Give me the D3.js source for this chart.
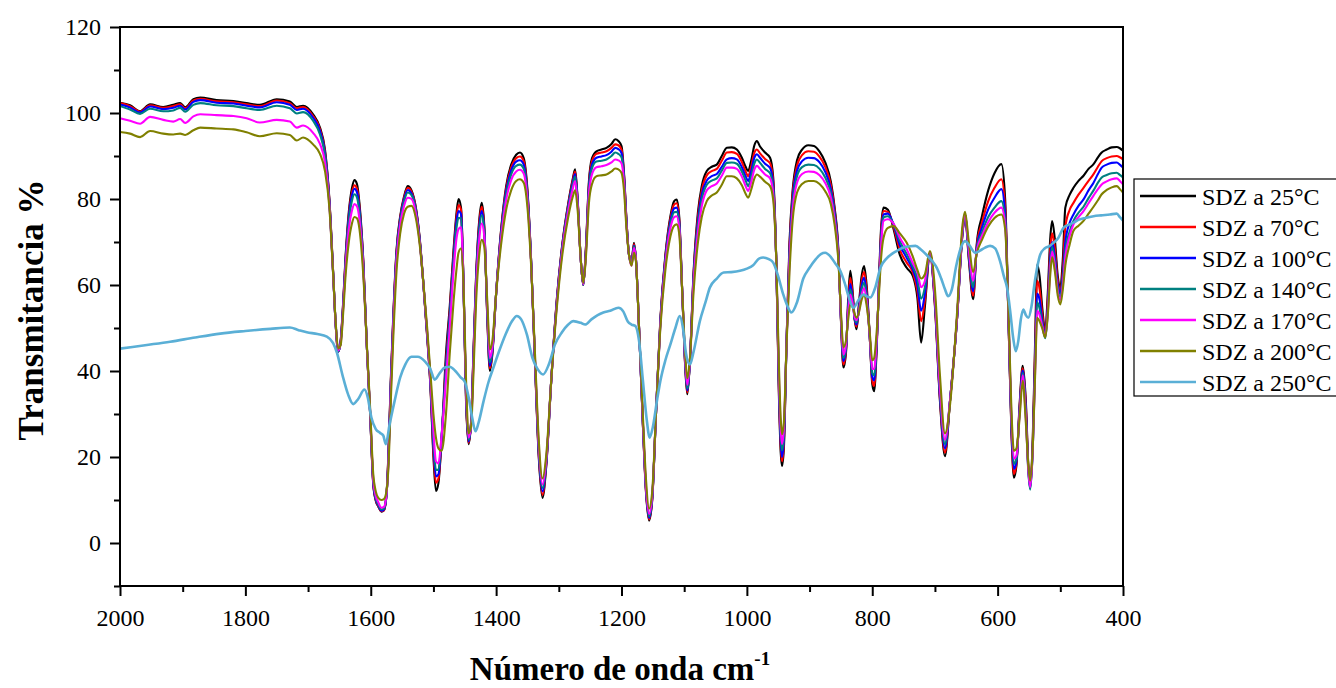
<!DOCTYPE html>
<html>
<head>
<meta charset="utf-8">
<script src="https://cdn.jsdelivr.net/npm/d3@7"></script>
<style>
  body { margin: 0; background: #fff; }
  svg { display: block; }
</style>
</head>
<body>
<script>
// Numero de onda (cm-1) para las series 25-200 °C
const waveNumber = [
  2000, 1984, 1968, 1952, 1931, 1915, 1904, 1896, 1883, 1872, 1846, 1819, 1798, 1777, 1750, 1729, 1718, 1708, 1692, 1681, 1673,
  1666, 1660, 1656, 1652, 1648, 1644, 1640, 1635, 1630, 1626, 1622, 1618, 1612, 1606, 1601, 1596, 1592, 1588, 1583, 1579,
  1575, 1572, 1568, 1564, 1559, 1553, 1547, 1541, 1535, 1528, 1522, 1516, 1510, 1505, 1500, 1496, 1492, 1487, 1480, 1474,
  1468, 1463, 1460, 1456, 1452, 1448, 1444, 1440, 1436, 1432, 1427, 1423, 1419, 1414, 1410, 1406, 1400, 1392, 1384, 1376,
  1368, 1362, 1356, 1350, 1344, 1338, 1332, 1326, 1320, 1312, 1303, 1294, 1285, 1278, 1274, 1270, 1265, 1261, 1257, 1252,
  1247, 1240, 1232, 1224, 1216, 1210, 1205, 1200, 1196, 1192, 1188, 1184, 1180, 1177, 1172, 1166, 1161, 1156, 1151, 1145,
  1138, 1130, 1122, 1116, 1112, 1108, 1103, 1098, 1095, 1091, 1085, 1078, 1072, 1064, 1056, 1048, 1040, 1032, 1024, 1016,
  1008, 1002, 998, 993, 988, 984, 979, 971, 963, 958, 953, 949, 946, 944, 941, 937, 932, 927, 920, 912,
  902, 893, 884, 875, 866, 860, 854, 850, 846, 842, 838, 835, 831, 828, 825, 821, 817, 813, 809, 804,
  800, 797, 793, 789, 786, 782, 775, 766, 756, 745, 735, 728, 722, 716, 708, 700, 692, 684, 676, 665,
  656, 652, 646, 639, 633, 625, 615, 605, 594, 588, 582, 578, 574, 570, 565, 560, 555, 551, 548, 544,
  540, 537, 533, 529, 524, 520, 516, 513, 509, 504, 500, 496, 492, 485, 479, 471, 463, 455, 447, 440,
  434, 426, 418, 410, 405, 400
];

const sdz25 = [
  102.4, 101.8, 100.4, 102.0, 101.4, 101.9, 102.3, 101.3, 103.2, 103.6, 103.0, 102.8, 102.3, 101.9, 103.2, 102.7, 101.4, 101.7, 99.7, 96.6, 91.5,
  80, 63, 51, 44.5, 47, 56, 67, 77, 82.5, 84.4, 83.5, 79, 66, 45, 30, 13.6, 9.8, 8.5, 7.3, 7.6,
  11, 20, 38, 53, 67.9, 76, 80.5, 83, 82, 78, 71, 60.2, 48, 36.9, 20, 12.1, 14, 24, 44, 55,
  68, 77, 80, 78, 60, 33, 23, 28, 45, 62, 75, 79.1, 74, 52, 40, 44, 58, 73, 83, 88,
  90.3, 90.8, 89.5, 82, 65, 42, 20, 10.5, 18, 38, 57, 70, 79, 84.5, 86.9, 80, 66, 60, 68, 84,
  89.5, 91.1, 91.5, 91.9, 92.8, 93.9, 93.5, 92.3, 86, 75, 67, 65.6, 69.8, 66, 50, 28, 12, 5.2, 10, 30,
  52, 67, 76, 79.5, 79.9, 76, 58, 40, 34.6, 42, 63, 77, 83, 86.5, 87.5, 88, 90, 91.9, 92, 91.5,
  89.6, 87.5, 86.5, 89, 92.5, 93.5, 92.2, 90.8, 89.6, 85, 65, 35, 21, 17.9, 22, 45, 70, 82, 89, 91.5,
  92.5, 92.3, 91, 88.5, 84, 78, 68, 52, 40.8, 44, 58, 63.3, 58, 52, 49.7, 56, 62, 64.4, 60, 48,
  37, 35.3, 45, 62, 73, 78, 77.5, 73, 67, 64, 62, 57, 46.6, 55, 67.2, 55, 33, 20.2, 33, 51.6,
  72, 76.4, 66, 56.7, 70, 76, 82, 86, 88.1, 80, 48, 26, 15.2, 18, 32, 41.2, 33, 18, 13.5, 24,
  48, 64.8, 62, 55, 49.3, 58, 71, 74.9, 71, 62, 59.4, 66, 78, 81, 82.6, 84.2, 85.4, 87, 88.1, 89.7,
  90.8, 91.5, 92, 92.1, 91.8, 91.2
];

const sdz70 = [
  102.3, 101.6, 100.3, 101.8, 101.2, 101.6, 102.0, 101.1, 102.9, 103.3, 102.7, 102.5, 102.0, 101.6, 102.9, 102.3, 101.1, 101.4, 99.3, 96.2, 91.0,
  79.7, 63, 51, 44.5, 47, 55.6, 66.5, 76.3, 81.5, 83.2, 82.4, 78.2, 65.6, 45, 30, 13.8, 10, 8.6, 7.4, 7.6,
  11, 19.5, 37.5, 52.5, 67.5, 75.7, 80.2, 82.6, 81.7, 77.8, 70.8, 60.2, 48.2, 37.2, 21, 14, 15, 24, 42, 54,
  67, 76, 78.6, 77.5, 60, 33.5, 23.3, 28, 44.5, 61.5, 74.2, 78.2, 73.5, 52.5, 40.6, 44.3, 58, 72.7, 82.4, 87.3,
  89.5, 89.9, 88.8, 81.5, 65, 42, 20.5, 11.2, 18.3, 38, 56.8, 69.8, 78.7, 84.1, 86.4, 79.8, 66, 60, 67.8, 83.4,
  88.8, 90.5, 90.8, 91.1, 91.9, 92.7, 92.5, 91.5, 85.6, 74.8, 67, 65.3, 69.5, 66, 50, 28, 12.2, 5.5, 10.2, 30,
  51.8, 66.6, 75.4, 78.7, 79, 75.4, 58, 40.3, 35, 42, 62.5, 76, 82, 85.5, 86.5, 87, 88.9, 90.8, 90.9, 90.5,
  88.6, 86.4, 85.3, 87.6, 90.8, 91.5, 90.6, 89.3, 88.3, 84, 65, 36, 22.3, 19, 23, 45, 69, 81, 87.8, 90.2,
  91.1, 91, 89.8, 87.5, 83.2, 77.4, 67.6, 52.2, 41.5, 44.5, 57, 61.7, 57.3, 52, 50.3, 55.4, 60.8, 63, 59, 48,
  37.8, 36.5, 45.5, 61.5, 72, 77.2, 77, 73.5, 68.2, 65.2, 62.8, 58.5, 51.6, 56.5, 67.3, 55.5, 33.5, 21, 33, 51.6,
  72, 76.4, 66.5, 57.5, 69.5, 74.5, 79.5, 82.6, 84.6, 78, 48, 26.5, 16, 18.5, 31.5, 40.6, 32, 17.5, 13, 23,
  46, 61, 59, 53.5, 48.6, 56.5, 68.5, 72, 68.8, 61, 58.6, 63.5, 73.5, 77.5, 79.1, 81, 82.6, 84.2, 85.8, 87.5,
  88.8, 89.5, 89.9, 90, 89.7, 89.2
];

const sdz100 = [
  102.0, 101.3, 100.1, 101.5, 100.9, 101.2, 101.7, 100.8, 102.6, 103.0, 102.4, 102.2, 101.7, 101.3, 102.5, 101.9, 100.7, 101.0, 98.9, 95.8, 90.6,
  79.4, 62.8, 51, 44.5, 46.8, 55.3, 66, 75.7, 80.8, 82.4, 81.6, 77.6, 65.3, 45, 30.2, 14, 10.2, 8.8, 7.5, 7.8,
  11, 19, 37, 52, 67, 75.3, 79.8, 82.1, 81.3, 77.5, 70.6, 60.2, 48.5, 37.6, 22.5, 15.5, 16, 24.5, 41, 53,
  66, 75, 77.2, 76.5, 60, 34, 23.6, 27.8, 44, 61, 73.3, 77.2, 73, 53, 41.2, 44.6, 58, 72.3, 81.8, 86.6,
  88.7, 89, 88, 81, 65, 42.3, 21, 12, 18.6, 38, 56.5, 69.5, 78.3, 83.6, 85.8, 79.5, 66, 60, 67.5, 82.8,
  88, 89.6, 89.9, 90.2, 91, 91.9, 91.6, 90.7, 85.2, 74.6, 67, 65, 69.2, 66, 50, 28.2, 12.5, 5.8, 10.4, 30,
  51.5, 66.2, 74.8, 77.8, 78, 74.8, 58, 40.6, 35.5, 42, 62, 75, 81, 84.3, 85.3, 85.8, 87.5, 89.2, 89.5, 89.2,
  87.4, 85.3, 84.2, 86.5, 89.6, 90.4, 89.6, 88.2, 87.2, 83.2, 65, 37, 23.5, 20, 24, 45, 68, 80, 86.6, 88.8,
  89.6, 89.5, 88.5, 86.3, 82.3, 76.8, 67.2, 52.4, 42.3, 45, 56, 60.2, 56.5, 52, 50.8, 54.9, 59.7, 61.7, 58, 48,
  38.6, 37.8, 46, 61, 71, 76.4, 76.6, 74, 69.3, 66.3, 63.5, 60, 54, 58, 67.4, 56, 34, 22, 33, 51.6,
  72.2, 76.4, 67, 58.5, 69, 73.3, 77.6, 80.3, 82.3, 76.5, 48.5, 27, 17.2, 19, 31, 40.1, 31, 17, 12.7, 22,
  44, 58, 56.5, 52, 48.1, 55, 66.5, 70, 67, 60, 58, 62, 70, 74.5, 76.4, 78.4, 79.9, 82, 83.8, 85.8,
  87.3, 88, 88.4, 88.5, 88, 87.3
];

const sdz140 = [
  101.6, 100.8, 99.8, 101.0, 100.4, 100.6, 101.2, 100.3, 101.9, 102.3, 101.8, 101.6, 101.1, 100.7, 101.7, 101.1, 99.9, 100.2, 98.2, 95.0, 90.0,
  79, 62.6, 51, 44.6, 46.6, 55, 65.5, 74.8, 79.6, 81.1, 80.4, 76.7, 64.8, 45, 30.4, 14.3, 10.5, 9, 7.8, 8,
  11, 18.5, 36.5, 51.5, 66.5, 74.8, 79.3, 81.5, 80.9, 77.2, 70.4, 60.2, 48.8, 38, 24, 17, 17, 25, 40, 52,
  65, 73.5, 75.6, 75.5, 60, 34.5, 24, 27.6, 43.5, 60.3, 72.3, 76.2, 72.5, 53.5, 42, 45, 58, 71.8, 81, 85.7,
  87.7, 88, 87, 80.5, 65, 42.6, 21.5, 12.8, 19, 38, 56.2, 69.2, 77.9, 83.1, 85.2, 79.2, 66, 60, 67.2, 82,
  87.2, 88.7, 88.9, 89.2, 90, 90.8, 90.5, 89.7, 84.7, 74.3, 67, 64.8, 69, 66, 50, 28.4, 12.8, 6.2, 10.6, 30,
  51.2, 65.7, 74.1, 76.9, 77, 74.2, 58, 41, 36, 42, 61.5, 74, 79.8, 83.3, 84.3, 84.8, 86.6, 88.4, 88.5, 88.2,
  86.4, 84.3, 83, 85.3, 88.3, 89.2, 88.4, 87, 86, 82.2, 65, 38, 25, 21.5, 25, 45, 67, 78.8, 85.3, 87.4,
  88, 87.9, 87, 85, 81.3, 76, 66.8, 52.7, 43, 45.5, 55.2, 59, 56, 52.2, 51.3, 54.5, 58.7, 60.5, 57.2, 48,
  39.5, 39, 46.5, 60.5, 70, 75.7, 76, 74.2, 70.2, 67.2, 64.2, 61.5, 56.8, 59.5, 67.5, 56.5, 35, 23, 33, 51.8,
  72.4, 76.5, 67.5, 59.5, 68.6, 72.2, 75.8, 78, 79.5, 75, 49, 28, 18.4, 19.6, 30.5, 39.5, 30, 16.5, 12.4, 21.5,
  42.5, 56, 54.5, 51, 47.6, 54, 65, 68.8, 65.8, 59, 57.2, 61, 68, 72.5, 74.9, 76.8, 78.2, 80.2, 82, 83.8,
  85, 85.6, 86, 86.1, 85.6, 85
];

const sdz170 = [
  98.8, 98.2, 97.5, 99.1, 98.4, 98.0, 98.6, 97.7, 99.2, 99.7, 99.5, 99.3, 98.8, 97.8, 98.4, 98.0, 96.6, 97.1, 95.4, 92.8, 88.5,
  78.6, 62.4, 51, 44.8, 46.4, 54.5, 64.5, 73, 77.3, 78.8, 78.3, 75.2, 64, 45, 30.8, 14.8, 11, 9.5, 8.2, 8.4,
  11.2, 18, 35.5, 50.5, 65.5, 74, 78.3, 80.3, 80, 76.6, 70, 60.2, 49.2, 38.5, 26, 19, 18.5, 25, 38, 50,
  63, 71, 73, 73.5, 60, 35.5, 24.5, 27.3, 42.5, 59, 70.5, 74.3, 71.5, 54.5, 43, 45.6, 58, 71, 79.8, 84.4,
  86.4, 86.8, 85.9, 79.5, 64.5, 43, 22.5, 13.6, 19.5, 38, 55.8, 68.6, 77.2, 82.2, 84.2, 78.7, 66, 60.2, 66.8, 81,
  85.8, 87.4, 87.6, 87.9, 88.5, 89.2, 89, 88.3, 83.8, 73.8, 67, 64.5, 68.6, 66, 50, 28.8, 13.3, 6.8, 11, 30,
  50.8, 65, 73.2, 75.8, 76, 73.4, 58, 41.6, 36.8, 42, 60.5, 72.5, 78.3, 82, 83, 83.6, 85.4, 87.3, 87.3, 87,
  85.2, 83, 81.9, 84, 86.9, 87.7, 87, 85.7, 84.8, 81.2, 65, 39.5, 26.5, 23, 26.5, 45, 65.5, 77.4, 83.8, 85.8,
  86.4, 86.3, 85.5, 83.7, 80.3, 75.2, 66.3, 53, 43.8, 46, 54.2, 57.8, 55.4, 52.5, 51.8, 54, 57.6, 59.3, 56.3, 48.2,
  40.5, 40.5, 47.3, 60, 68.8, 74.9, 75.3, 74.3, 71, 68.3, 65, 63, 59.5, 61, 67.6, 57, 36, 24, 33, 52,
  72.8, 76.6, 68.2, 61, 68.2, 71.4, 74.6, 76.8, 78, 74, 49.5, 29, 19.6, 20.3, 30, 39, 29, 17, 13, 21.5,
  41, 54, 53, 50.5, 48, 53.5, 64, 67.8, 64.8, 58.3, 56.5, 60, 66.5, 71.5, 74.1, 75.8, 77.2, 79, 80.8, 82.3,
  83.4, 84.1, 84.6, 84.8, 84.2, 83.4
];

const sdz200 = [
  95.6, 95.2, 94.4, 95.8, 95.2, 95.0, 95.2, 94.9, 96.0, 96.6, 96.4, 96.2, 95.5, 94.6, 95.3, 94.9, 93.6, 94.3, 92.7, 90.5, 86.5,
  78, 62.5, 51.5, 45.2, 46, 53.5, 62.5, 70, 74.3, 75.8, 75.5, 73, 62.5, 45.5, 31.5, 16, 12, 10.5, 10, 10.2,
  12, 17, 33, 48, 63, 72, 76.5, 78.2, 78.4, 75.5, 69.5, 60.5, 50, 40, 30, 24.5, 22, 21.4, 30, 44,
  56, 64, 67.5, 68.5, 60, 38, 25.5, 27, 40, 56, 67, 70.5, 69, 56, 45, 47, 58, 69.5, 77.5, 82,
  84.2, 84.6, 83.8, 78, 64, 44, 24, 15, 20.5, 38, 55, 67.5, 75.8, 80.4, 82, 77.5, 66, 60.5, 66, 79,
  83.5, 85.3, 85.5, 85.7, 86.4, 87.1, 86.9, 86.1, 82, 73, 67, 64.5, 67.5, 65.5, 50, 30, 15, 8, 12, 30,
  50, 63.5, 71.3, 73.8, 74.1, 72, 58, 43, 38.3, 42.5, 58.5, 70, 75.8, 79.5, 80.8, 81.5, 83.3, 85.3, 85.3, 84.8,
  83.2, 81.2, 80.3, 82.2, 84.8, 85.7, 85.2, 84, 83, 79.8, 65.5, 42, 29, 25.3, 28, 45, 63, 75, 81.5, 83.5,
  84.2, 84.2, 83.5, 81.8, 78.8, 74, 65.5, 54, 45.5, 47, 52.5, 55.5, 54.8, 53.2, 52.4, 53.8, 56.5, 57.8, 55.3, 49,
  42.5, 43, 49, 58.5, 66, 71, 73.3, 73.7, 72, 69.8, 66.5, 63.5, 61.5, 62.5, 67.9, 59, 39, 25.5, 32, 53,
  74, 77, 70, 63, 67.5, 70.5, 73.6, 75.6, 76.4, 73, 50.5, 31, 21.4, 22, 29, 37.7, 28, 18, 14.5, 22,
  40, 52.4, 51.5, 50, 47.8, 53, 62.5, 66.5, 63.5, 57.5, 55.5, 59, 64.5, 69.5, 72.6, 73.8, 74.9, 76.6, 78.2, 79.7,
  81.1, 82.1, 82.7, 83, 82.3, 81.5
];

// La serie de 250 °C tiene su propia rejilla
const sdz250Wave = [
  2000, 1960, 1920, 1880, 1840, 1800, 1760, 1729, 1715, 1702, 1685, 1670, 1660, 1654, 1645, 1636, 1628, 1620, 1610, 1605,
  1599, 1592, 1585, 1580, 1576, 1570, 1562, 1553, 1545, 1535, 1525, 1514, 1505, 1498, 1490, 1482, 1474, 1465, 1457, 1450,
  1444, 1438, 1433, 1428, 1420, 1412, 1405, 1396, 1385, 1375, 1367, 1360, 1351, 1342, 1334, 1325, 1316, 1306, 1295, 1285,
  1277, 1265, 1258, 1248, 1238, 1229, 1218, 1205, 1197, 1190, 1184, 1178, 1172, 1166, 1160, 1155, 1150, 1143, 1138, 1130,
  1122, 1114, 1107, 1102, 1097, 1091, 1085, 1075, 1066, 1059, 1048, 1037, 1025, 1011, 1000, 990, 980, 974, 965, 958,
  950, 942, 935, 929, 920, 910, 900, 890, 882, 875, 866, 858, 851, 843, 836, 830, 822, 814, 808, 803,
  795, 787, 777, 768, 761, 750, 740, 731, 722, 712, 704, 697, 690, 684, 679, 673, 666, 659, 652, 645,
  636, 628, 620, 612, 604, 596, 590, 585, 580, 575, 571, 567, 563, 559, 555, 551, 546, 541, 537, 532,
  525, 518, 511, 503, 495, 487, 479, 470, 460, 447, 435, 421, 410, 405, 400
];

const sdz250 = [
  45.2, 46, 46.8, 47.8, 48.7, 49.3, 49.8, 50.1, 49.5, 49, 48.6, 48, 46.5, 44.3, 39, 34.5, 32.3, 33.5, 35.7, 34,
  29.2, 26.5, 25.6, 25, 23, 27.5, 33, 38.5, 41.5, 43.3, 43.3, 42.3, 40.5, 38, 39.5, 40.8, 41, 40, 38.6, 37.5,
  34, 29, 26, 28, 33, 37.5, 40.5, 44.3, 48.5, 51.5, 52.8, 52, 48.5, 43, 40.5, 39.2, 41.5, 46.2, 49, 50.8,
  51.6, 51.2, 50.8, 52, 53, 53.6, 54, 54.7, 53.8, 51.5, 50.8, 50.5, 47, 38, 29, 24.5, 27, 33.5, 37.7, 42.5,
  46.2, 50, 52.8, 50, 44, 41.5, 44.5, 51.6, 56, 59.4, 61.5, 62.9, 63, 63.3, 63.8, 64.6, 66.2, 66.4, 66, 65.2,
  62, 57.8, 55, 53.6, 56, 61.5, 64, 66, 67.2, 67.5, 66.5, 64.8, 63.3, 60, 56.5, 54.7, 56.5, 57.8, 57.3, 57.1,
  59.5, 64, 66.2, 67.3, 67.9, 68.7, 69, 69.1, 68.2, 66.8, 65.5, 64, 61.5, 59, 57.4, 59, 64.5, 68.5, 70.2, 69.2,
  67.5, 68, 68.7, 69.1, 68.5, 65.5, 62, 59.4, 54, 47.5, 44.6, 47, 52, 54.3, 53, 52.4, 55, 60.5, 64, 67.1,
  68.5, 69, 69.8, 71, 73.3, 74, 74.5, 75.2, 75.6, 76, 76.2, 76.4, 76.6, 75.8, 75
];

const seriesNames = ["SDZ a 25°C", "SDZ a 70°C", "SDZ a 100°C", "SDZ a 140°C", "SDZ a 170°C", "SDZ a 200°C", "SDZ a 250°C"];
const seriesColors = ["#000000", "#ff0000", "#0000ff", "#008080", "#ff00ff", "#808000", "#5aafd6"];
const xTicks = [2000, 1800, 1600, 1400, 1200, 1000, 800, 600, 400];
const xMinorTicks = [1900, 1700, 1500, 1300, 1100, 900, 700, 500];
const yTicks = [0, 20, 40, 60, 80, 100, 120];
const yMinorTicks = [-10, 10, 30, 50, 70, 90, 110];

// series: [wavenumbers, valores]
const series = [
  [waveNumber, sdz25],
  [waveNumber, sdz70],
  [waveNumber, sdz100],
  [waveNumber, sdz140],
  [waveNumber, sdz170],
  [waveNumber, sdz200],
  [sdz250Wave, sdz250]
];

const width = 1336, height = 688;
const plotLeft = 120, plotRight = 1123, plotTop = 27, plotBottom = 586;
const serif = "'Liberation Serif', 'Times New Roman', serif";

const svg = d3.select("body").append("svg")
    .attr("width", width)
    .attr("height", height)
    .style("background", "#fff");

const x = d3.scaleLinear().domain([2000, 400]).range([plotLeft, plotRight]);
const y = d3.scaleLinear().domain([-10, 120]).range([plotBottom, plotTop]);

const line = d3.line()
    .x(d => x(d[0]))
    .y(d => y(d[1]))
    .curve(d3.curveMonotoneX);

// Curvas
series.forEach(function (s, i) {
    const pts = s[0].map((w, k) => [w, s[1][k]]).filter(d => d[1] !== undefined);
    svg.append("path")
        .datum(pts)
        .attr("d", line)
        .attr("fill", "none")
        .attr("stroke", seriesColors[i])
        .attr("stroke-width", i === 6 ? 2.6 : 2.1)
        .attr("stroke-linejoin", "round");
});

// Ejes
const xAxis = svg.append("g")
    .attr("transform", `translate(0,${plotBottom})`)
    .call(d3.axisBottom(x).tickValues(xTicks).tickSize(10).tickPadding(13).tickFormat(d3.format("d")));
const xMinor = svg.append("g")
    .attr("transform", `translate(0,${plotBottom})`)
    .call(d3.axisBottom(x).tickValues(xMinorTicks).tickSize(6).tickFormat(""));
const yAxis = svg.append("g")
    .attr("transform", `translate(${plotLeft},0)`)
    .call(d3.axisLeft(y).tickValues(yTicks).tickSize(10).tickPadding(9).tickFormat(d3.format("d")));
const yMinor = svg.append("g")
    .attr("transform", `translate(${plotLeft},0)`)
    .call(d3.axisLeft(y).tickValues(yMinorTicks).tickSize(6).tickFormat(""));

[xAxis, xMinor, yAxis, yMinor].forEach(function (g) {
    g.attr("font-family", null);
    g.select(".domain").remove();
    g.selectAll(".tick line").attr("stroke", "#000").attr("stroke-width", 2);
    g.selectAll(".tick text")
        .attr("fill", "#000")
        .style("font-family", serif)
        .style("font-size", "24px");
});

// Marco
svg.append("rect")
    .attr("x", plotLeft)
    .attr("y", plotTop)
    .attr("width", plotRight - plotLeft)
    .attr("height", plotBottom - plotTop)
    .attr("fill", "none")
    .attr("stroke", "#000")
    .attr("stroke-width", 2);

// Titulos
svg.append("text")
    .attr("transform", "translate(43,310) rotate(-90)")
    .attr("text-anchor", "middle")
    .style("font-family", serif)
    .style("font-size", "35px")
    .style("font-weight", "bold")
    .text("Transmitancia %");

const xTitle = svg.append("text")
    .attr("x", 620)
    .attr("y", 680)
    .attr("text-anchor", "middle")
    .style("font-family", serif)
    .style("font-size", "33px")
    .style("font-weight", "bold");
xTitle.append("tspan").text("Número de onda cm");
xTitle.append("tspan").attr("dy", -15).style("font-size", "19px").text("-1");

// Leyenda
const legend = svg.append("g").attr("transform", "translate(1134,179)");
legend.append("rect")
    .attr("width", 220)
    .attr("height", 217)
    .attr("fill", "#fff")
    .attr("stroke", "#000")
    .attr("stroke-width", 1.2);
seriesNames.forEach(function (name, i) {
    const ly = 17 + i * 31;
    legend.append("line")
        .attr("x1", 6).attr("x2", 62)
        .attr("y1", ly).attr("y2", ly)
        .attr("stroke", seriesColors[i])
        .attr("stroke-width", 2.4);
    legend.append("text")
        .attr("x", 68)
        .attr("y", ly + 8.5)
        .style("font-family", serif)
        .style("font-size", "24px")
        .text(name);
});
</script>
</body>
</html>
